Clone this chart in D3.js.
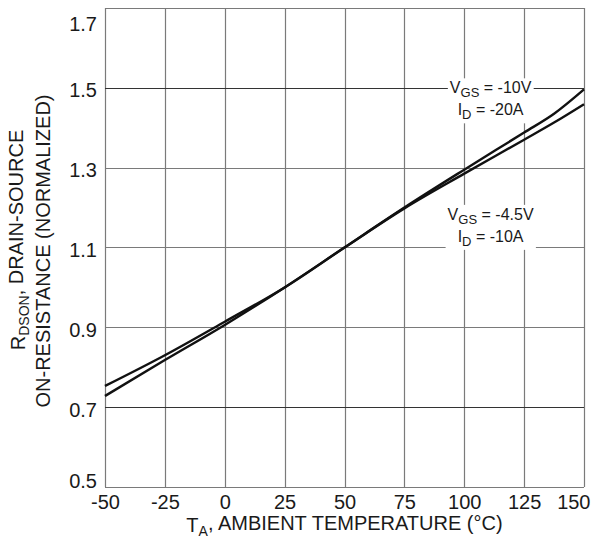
<!DOCTYPE html>
<html>
<head>
<meta charset="utf-8">
<script src="https://cdn.jsdelivr.net/npm/d3@7"></script>
<style>
  body { margin: 0; background: #fff; }
  text { font-family: "Liberation Sans", Arial, sans-serif; fill: #1a1a1a; }
</style>
</head>
<body>
<div id="chart"></div>
<script>
// temperature points (°C)
const temps = [-50, -25, 0, 25, 50, 75, 100, 125, 137.5, 150];
// VGS = -10V, ID = -20A
const rds10V = [0.728, 0.818, 0.906, 1.000, 1.100, 1.200, 1.295, 1.388, 1.435, 1.496];
// VGS = -4.5V, ID = -10A
const rds45V = [0.753, 0.830, 0.914, 1.000, 1.100, 1.198, 1.285, 1.370, 1.413, 1.459];

const xTicks = [-50, -25, 0, 25, 50, 75, 100, 125, 150];
const yTicks = [0.5, 0.7, 0.9, 1.1, 1.3, 1.5, 1.7];
const darkGrid = [0.7, 1.5];

// label text: [main, subscript, rest]
const labels = [
    { x: 111, y: 1.5, lines: [["V", "GS", " = -10V"], ["I", "D", " = -20A"]] },
    { x: 111, y: 1.183, lines: [["V", "GS", " = -4.5V"], ["I", "D", " = -10A"]] }
];

const margin = { left: 105, right: 11, top: 8, bottom: 55 },
    width = 595,
    height = 542,
    innerWidth = width - margin.left - margin.right,
    innerHeight = height - margin.top - margin.bottom;

const svg = d3.select("#chart").append("svg")
    .attr("width", width)
    .attr("height", height);

const g = svg.append("g")
    .attr("transform", "translate(" + margin.left + "," + margin.top + ")");

const xScale = d3.scaleLinear().domain([-50, 150]).range([0, innerWidth]);
const yScale = d3.scaleLinear().domain([0.5, 1.7]).range([innerHeight, 0]);

// grid
g.selectAll(".vgrid").data(xTicks).enter().append("line")
    .attr("x1", d => Math.round(xScale(d)) + 0.5)
    .attr("x2", d => Math.round(xScale(d)) + 0.5)
    .attr("y1", 0).attr("y2", innerHeight)
    .attr("stroke", "#7a7a7a").attr("stroke-width", 1.2);

g.selectAll(".hgrid").data(yTicks).enter().append("line")
    .attr("x1", 0).attr("x2", innerWidth)
    .attr("y1", d => Math.round(yScale(d)) + 0.5)
    .attr("y2", d => Math.round(yScale(d)) + 0.5)
    .attr("stroke", d => darkGrid.includes(d) ? "#333" : "#7a7a7a")
    .attr("stroke-width", 1.2);

// axes (labels only)
const xAxis = g.append("g")
    .attr("transform", "translate(0," + innerHeight + ")")
    .call(d3.axisBottom(xScale).tickValues(xTicks).tickFormat(d => String(d)).tickSize(0).tickPadding(8));
const yAxis = g.append("g")
    .call(d3.axisLeft(yScale).tickValues(yTicks).tickFormat(d3.format(".1f")).tickSize(0).tickPadding(8));
[xAxis, yAxis].forEach(a => {
    a.select(".domain").remove();
    a.selectAll("text")
        .style("font-family", "'Liberation Sans', Arial, sans-serif")
        .style("font-size", "20px")
        .attr("fill", "#1a1a1a");
});
xAxis.selectAll("text").attr("dy", "0.71em");
xAxis.selectAll(".tick").filter(d => d === 150).select("text")
    .attr("text-anchor", "end").attr("x", 6);
// keep the end labels inside the frame height
yAxis.selectAll(".tick").select("text")
    .attr("dy", d => d === 1.7 ? "1.1em" : d === 0.5 ? "-0.0em" : "0.45em");

// curves
const line = d3.line()
    .x((d, i) => xScale(temps[i]))
    .y(d => yScale(d))
    .curve(d3.curveMonotoneX);

[rds10V, rds45V].forEach(s => {
    g.append("path")
        .attr("fill", "none")
        .attr("stroke", "#111")
        .attr("stroke-width", 2.4)
        .attr("d", line(s));
});

// annotations with white background
labels.forEach(lab => {
    const lg = g.append("g");
    const bg = lg.append("rect").attr("fill", "#fff");
    const cx = xScale(lab.x), cy = yScale(lab.y);
    lab.lines.forEach((parts, i) => {
        const t = lg.append("text")
            .attr("x", cx)
            .attr("y", cy + i * 22)
            .attr("dy", "0.35em")
            .attr("text-anchor", "middle")
            .style("font-size", "16px");
        t.append("tspan").text(parts[0]);
        t.append("tspan").text(parts[1]).attr("dy", "0.3em").style("font-size", "13px");
        t.append("tspan").text(parts[2]).attr("dy", "-0.25em");
    });
    const bb = lg.node().getBBox();
    bg.attr("x", bb.x - 2).attr("y", bb.y - 1)
        .attr("width", bb.width + 4).attr("height", bb.height + 2);
});

// x title
const xt = svg.append("text")
    .attr("x", margin.left + innerWidth / 2)
    .attr("y", 532)
    .attr("text-anchor", "middle")
    .style("font-size", "20px");
xt.append("tspan").text("T");
xt.append("tspan").text("A").attr("dy", "0.3em").style("font-size", "14px");
xt.append("tspan").text(", AMBIENT TEMPERATURE (°C)").attr("dy", "-0.3em");

// y title
const yt1 = svg.append("text")
    .attr("transform", "translate(25,240) rotate(-90)")
    .attr("text-anchor", "middle")
    .style("font-size", "20px");
yt1.append("tspan").text("R");
yt1.append("tspan").text("DSON").attr("dy", "0.3em").style("font-size", "14px");
yt1.append("tspan").text(", DRAIN-SOURCE").attr("dy", "-0.3em");

svg.append("text")
    .attr("transform", "translate(50,251) rotate(-90)")
    .attr("text-anchor", "middle")
    .style("font-size", "20px")
    .text("ON-RESISTANCE (NORMALIZED)");
</script>
</body>
</html>
